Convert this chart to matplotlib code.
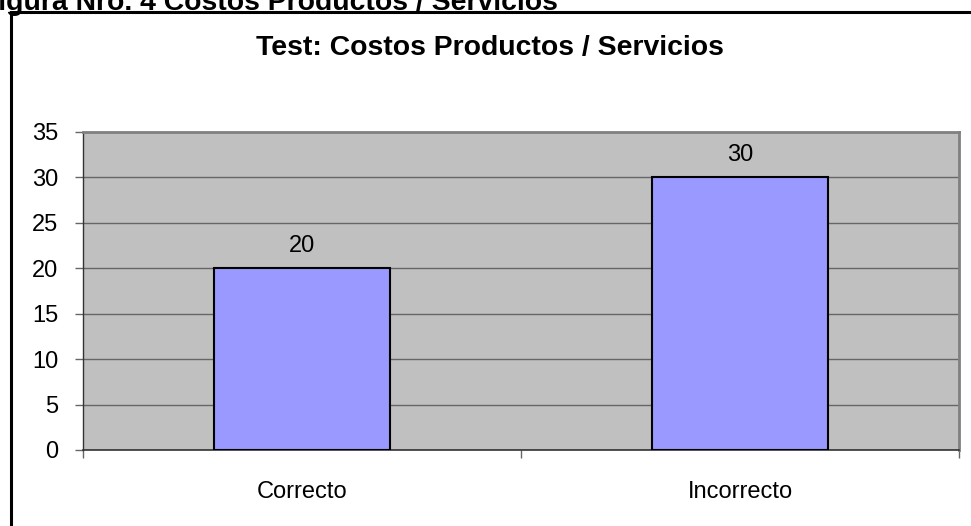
import matplotlib.pyplot as plt
from matplotlib.patches import Rectangle

categories = ["Correcto", "Incorrecto"]
values = [20, 30]
y_ticks = [0, 5, 10, 15, 20, 25, 30, 35]

plt.rcParams["font.family"] = ["Liberation Sans", "DejaVu Sans"]

fig = plt.figure(figsize=(9.71, 5.26), dpi=100)
ax = fig.add_axes([83 / 971, 1 - 450 / 526, (959 - 83) / 971, (450 - 132) / 526])

# outer chart border (right and bottom run off the page)
fig.patches.append(Rectangle(
    (11 / 971, -0.05), 1.1, 1 - 12 / 526 + 0.05, transform=fig.transFigure,
    fill=False, edgecolor="black", linewidth=2.2, clip_on=False
))

fig.text(558 / 971, 1 - 10 / 526, "Figura Nro. 4 Costos Productos / Servicios",
         ha="right", va="baseline", fontsize=20.4, fontweight="bold")
fig.text(490 / 971, 1 - 48 / 526, "Test: Costos Productos / Servicios",
         ha="center", va="center", fontsize=20.4, fontweight="bold")

ax.set_facecolor("#C0C0C0")
x = range(len(categories))
bars = ax.bar(x, values, width=0.4, color="#9999FF", edgecolor="black",
              linewidth=1.5, zorder=3)
for b, v in zip(bars, values):
    ax.annotate(str(v), (b.get_x() + b.get_width() / 2, v),
                xytext=(0, 8), textcoords="offset points",
                ha="center", va="bottom", fontsize=17)

ax.set_xlim(-0.5, 1.5)
ax.set_ylim(0, 35)
ax.set_yticks(y_ticks)
ax.yaxis.grid(True, color="#666666", linewidth=1, zorder=1)
ax.set_axisbelow(True)

ax.set_xticks(list(x))
ax.set_xticklabels(categories)
ax.set_xticks([-0.5, 0.5, 1.5], minor=True)
ax.tick_params(axis="x", which="major", length=0, pad=22, labelsize=17)
ax.tick_params(axis="x", which="minor", length=6, width=1, color="#666666")
ax.tick_params(axis="y", length=6, width=1, color="#666666", pad=12,
               labelsize=17)

for side in ["top", "right"]:
    ax.spines[side].set_color("#808080")
    ax.spines[side].set_linewidth(2)
ax.spines["left"].set_color("#333333")
ax.spines["bottom"].set_color("#333333")
ax.spines["left"].set_linewidth(1)
ax.spines["bottom"].set_linewidth(1.2)

fig.savefig("out.png", dpi=100)
